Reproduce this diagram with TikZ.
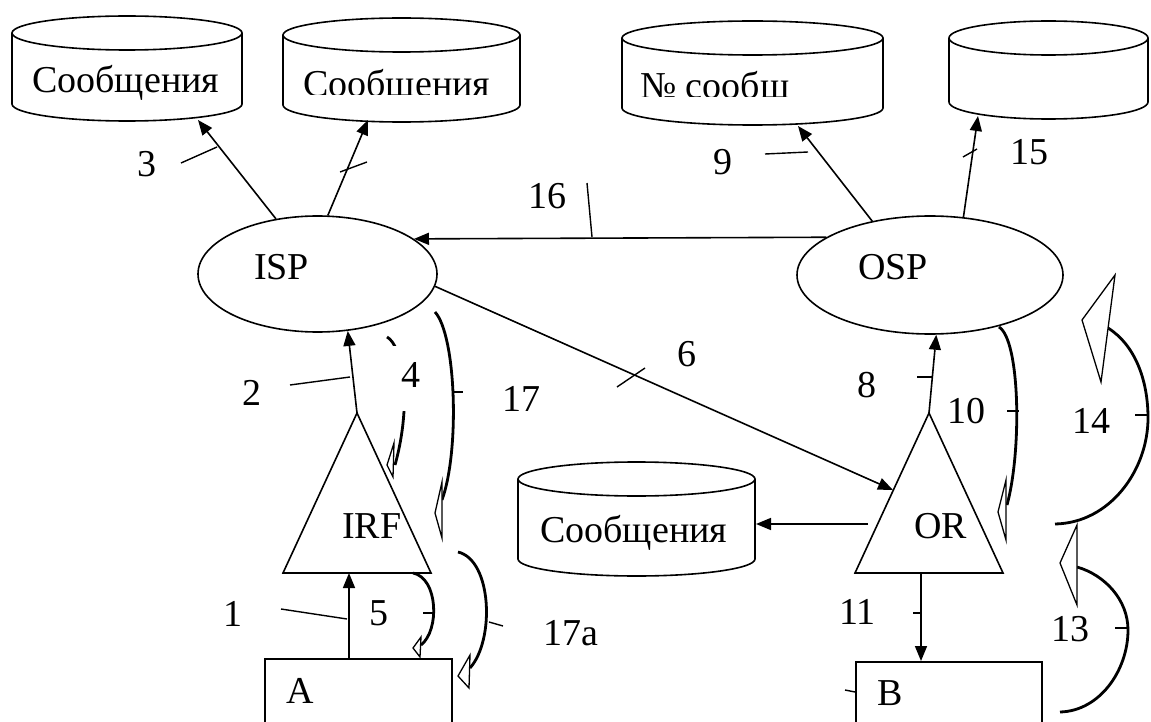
\documentclass[tikz,border=0pt]{standalone}
\usepackage{fontspec}
\setmainfont{Liberation Serif}
\usetikzlibrary{shapes.geometric,arrows.meta}
\newcommand{\mycyl}[6]{%
  \pgfmathsetmacro{\cylx}{(#2+#3)/2}%
  \pgfmathsetmacro{\cylrx}{(#3-#2)/2}%
  \draw[shape line] (#2,#4) -- (#2,#5) arc[start angle=180,end angle=360,x radius=\cylrx pt,y radius=#6pt] -- (#3,#4);
  \draw[shape line] (\cylx,#4) ellipse[x radius=\cylrx pt,y radius=#6pt];
  \coordinate (#1) at (\cylx,{(#4+#5)/2});
}
\begin{document}
\begin{tikzpicture}[x=1pt,y=-1pt,
  shape line/.style={line width=1.6pt, fill=white},
  conn/.style={line width=1.6pt, -{Triangle[length=15pt,width=12pt]}},
  tick/.style={line width=1.4pt},
  bent/.style={line width=2.8pt},
  hollow/.style={line width=1.3pt, fill=white, line join=miter},
  txt/.style={inner sep=0pt, anchor=base west, font=\fontsize{38}{44}\selectfont}]
\useasboundingbox (0,0) rectangle (1151,722);

% stores
\mycyl{c1}{12}{242}{33}{104}{17}
\mycyl{c2}{283}{520}{35}{105}{17}
\mycyl{c3}{622}{883}{38}{108}{17}
\mycyl{c4}{949}{1148}{38}{102}{17}
\mycyl{c5}{518}{755}{479}{559}{17}
\node[txt] (c1t) at (32,93) {Сообщения};
\begin{scope}
  \clip (283,60) rectangle (520,95);
  \node[txt] (c2t) at (303,97) {Сообщения};
\end{scope}
\begin{scope}
  \clip (622,60) rectangle (883,97);
  \node[txt] (c3t) at (640,99) {№ сообщ};
\end{scope}
\node[txt] (c5t) at (540,542) {Сообщения};

\coordinate (c1in) at (198,120);
\coordinate (c2in) at (368,120);
\coordinate (c3in) at (798,126);
\coordinate (c4in) at (978,116);
\coordinate (c5in) at (756,524);

% processes
\node[ellipse, draw, line width=1.6pt, minimum width=239pt, minimum height=116pt, inner sep=0pt] (isp) at (317.5,274) {};
\node[txt] (ispt) at (254,279) {ISP};
\node[ellipse, draw, line width=1.6pt, minimum width=266pt, minimum height=118pt, inner sep=0pt] (osp) at (930,275) {};
\node[txt] (ospt) at (858,279) {OSP};

\draw[shape line] (357,413) coordinate (irfa) -- (431,573) coordinate (irfr) -- (283,573) coordinate (irfl) -- cycle;
\node[txt] (irf) at (342,538) {IRF};
\draw[shape line] (929,413) coordinate (ora) -- (1003,573) coordinate (orr) -- (855,573) coordinate (orl) -- cycle;
\node[txt] (or) at (914,538) {OR};
\coordinate (or6) at (893,490);
\coordinate (orw) at (868,524);

\node[draw, line width=1.6pt, minimum width=187pt, minimum height=66pt, inner sep=0pt, anchor=north west] (A) at (264,658) {};
\node[txt] (At) at (286,703) {A};
\node[draw, line width=1.6pt, minimum width=186pt, minimum height=63pt, inner sep=0pt, anchor=north west] (B) at (855,661) {};
\node[txt] (Bt) at (877,705) {B};

% straight flows
\draw[conn] (isp.127) -- (c1in);
\draw[conn] (isp.80) -- (c2in);
\draw[conn] (osp.137.6) -- (c3in);
\draw[conn] (osp.60.4) -- (c4in);
\draw[conn] (osp.160.6) -- (isp.20.1);
\draw[conn] (isp.-6.8) -- (or6);
\draw[conn] (orw) -- (c5in);
\draw[conn] (irfa) -- (isp.-62.3);
\draw[conn] ([xshift=85pt]A.north west) -- ([xshift=66pt]irfl);
\draw[conn] (ora) -- (osp.-84.2);
\draw[conn] ([xshift=66pt]orl) -- ([xshift=66pt]B.north west);

% curved flows
\draw[bent] (387,337) .. controls (402,345) and (413,400) .. (395,465);
\fill[white] (393,346) rectangle (428,411);
\draw[hollow] (394,443) -- (387,465) -- (393,477) -- cycle;
\draw[bent] (435,312) .. controls (456,335) and (460,450) .. (442,500);
\draw[hollow] (442,482) -- (435,513) -- (442,538) -- cycle;
\draw[bent] (413,573) .. controls (438,578) and (440,630) .. (421,645);
\draw[hollow] (421,637) -- (413,648) -- (420,657) -- cycle;
\draw[bent] (458,552) .. controls (492,560) and (495,640) .. (470,668);
\draw[hollow] (470,655) -- (458,676) -- (469,688) -- cycle;
\draw[bent] (999,327) .. controls (1020,340) and (1022,450) .. (1007,505);
\draw[hollow] (1006,480) -- (998,512) -- (1006,540) -- cycle;
\draw[bent] (1108,328) .. controls (1135,345) and (1148,380) .. (1148,418) .. controls (1148,470) and (1110,523) .. (1055,524);
\draw[hollow] (1115,275) -- (1082,320) -- (1101,382) -- cycle;
\draw[bent] (1077,567) .. controls (1105,575) and (1128,600) .. (1128,630) .. controls (1128,670) and (1100,711) .. (1060,712);
\draw[hollow] (1077,525) -- (1060,563) -- (1077,605) -- cycle;

% label leaders
\draw[tick] (181,163) -- (217,147);
\draw[tick] (340,172) -- (367,162);
\draw[tick] (765,154) -- (808,152);
\draw[tick] (963,157) -- (977,149);
\draw[tick] (587,183) -- (592,237);
\draw[tick] (617,387) -- (645,368);
\draw[tick] (290,385) -- (350,377);
\draw[tick] (281,609) -- (347,619);
\draw[tick] (453,392) -- (463,392);
\draw[tick] (423,613) -- (433,613);
\draw[tick] (489,622) -- (503,626);
\draw[tick] (917,377) -- (933,377);
\draw[tick] (1007,411) -- (1019,411);
\draw[tick] (913,613) -- (921,613);
\draw[tick] (845,690) -- (855,692);
\draw[tick] (1135,415) -- (1148,415);
\draw[tick] (1115,628) -- (1128,628);

% numbers
\node[txt] (l1) at (223,626) {1};
\node[txt] (l2) at (242,405) {2};
\node[txt] (l3) at (137,177) {3};
\node[txt] (l4) at (401,387) {4};
\node[txt] (l5) at (369,625) {5};
\node[txt] (l6) at (677,366) {6};
\node[txt] (l8) at (857,397) {8};
\node[txt] (l9) at (713,175) {9};
\node[txt] (l10) at (947,423) {10};
\node[txt] (l11) at (839,624) {11};
\node[txt] (l13) at (1051,641) {13};
\node[txt] (l14) at (1072,433) {14};
\node[txt] (l15) at (1010,165) {15};
\node[txt] (l16) at (528,208) {16};
\node[txt] (l17) at (502,411) {17};
\node[txt] (l17a) at (543,645) {17a};
\end{tikzpicture}
\end{document}
